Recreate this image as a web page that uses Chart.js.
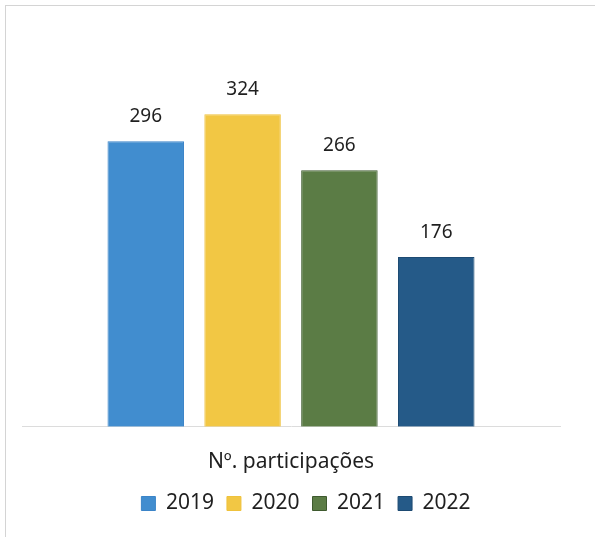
<!DOCTYPE html>
<html>
<head>
<meta charset="utf-8">
<script src="https://cdn.jsdelivr.net/npm/chart.js@4.4.0/dist/chart.umd.min.js"></script>
<style>
    html, body { margin: 0; padding: 0; background: #fff; }
    #wrap { position: relative; width: 595px; height: 537px; }
    #frame {
        position: absolute; left: 5px; top: 5px; right: 0; bottom: 0;
        border-left: 1px solid #d4d4d4; border-top: 1px solid #d4d4d4;
        pointer-events: none;
    }
    canvas { position: absolute; left: 0; top: 0; }
</style>
</head>
<body>
<div id="wrap">
    <canvas id="participacoes" width="595" height="537"></canvas>
    <div id="frame"></div>
</div>
<script>
const categories = ['Nº. participações'];
const years = ['2019', '2020', '2021', '2022'];
const participacoes = [296, 324, 266, 176];
const fillColors = ['#418dcf', '#f2c744', '#5b7c45', '#255a88'];
const edgeColors = ['#3b84c8', '#efc23c', '#3e5a2e', '#1d4a72'];

// value printed above each bar
const valueLabels = {
    id: 'valueLabels',
    afterDatasetsDraw(chart) {
        const ctx = chart.ctx;
        ctx.save();
        ctx.font = '19px "Noto Sans"';
        ctx.fillStyle = '#1f1f1f';
        ctx.textAlign = 'center';
        ctx.textBaseline = 'alphabetic';
        chart.data.datasets.forEach((ds, i) => {
            chart.getDatasetMeta(i).data.forEach((bar, j) => {
                ctx.fillText(String(ds.data[j]), bar.x, bar.y - 19);
            });
        });
        ctx.restore();
    }
};

// legend sits a little right of centre
const legendShift = {
    id: 'legendShift',
    afterLayout(chart) {
        chart.legend.left += 15;
        chart.legend.right += 15;
    }
};

const datasets = years.map((year, i) => ({
    label: year,
    data: [participacoes[i]],
    backgroundColor: fillColors[i],
    borderColor: edgeColors[i],
    borderWidth: 1,
    barPercentage: 0.79,
    categoryPercentage: 0.72
}));

new Chart(document.getElementById('participacoes'), {
    type: 'bar',
    data: { labels: categories, datasets: datasets },
    plugins: [valueLabels, legendShift],
    options: {
        responsive: false,
        animation: false,
        layout: { padding: { left: 22, right: 35, top: 41, bottom: 13 } },
        scales: {
            y: { display: false, min: 0, max: 400 },
            x: {
                grid: { display: false },
                border: { display: true, color: '#dcdcdc', width: 1 },
                ticks: { display: false },
                title: {
                    display: true,
                    text: categories[0],
                    color: '#1f1f1f',
                    font: { family: 'Noto Sans', size: 21 },
                    padding: { top: 15, bottom: 5 }
                }
            }
        },
        plugins: {
            legend: {
                position: 'bottom',
                labels: {
                    color: '#1f1f1f',
                    font: { family: 'Noto Sans', size: 21 },
                    boxWidth: 14,
                    boxHeight: 14,
                    padding: 13
                }
            },
            tooltip: { enabled: false }
        }
    }
});
</script>
</body>
</html>
